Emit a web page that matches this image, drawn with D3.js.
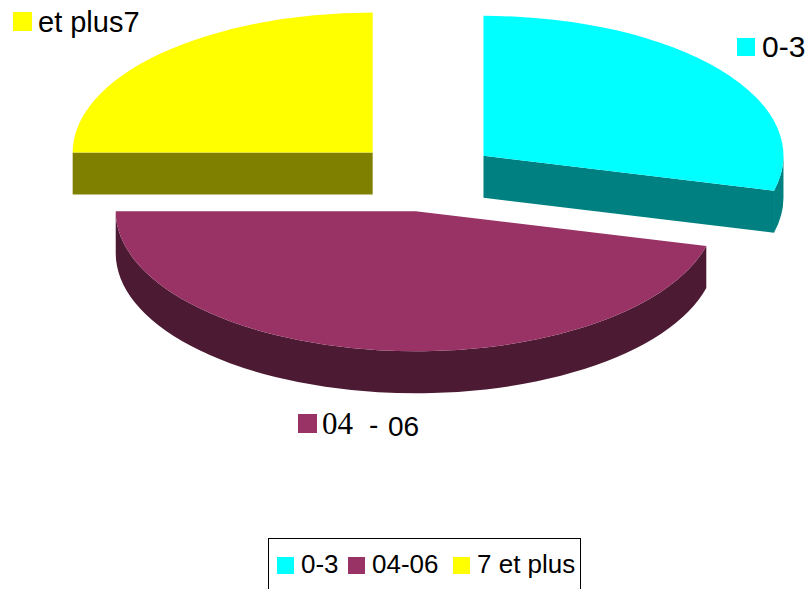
<!DOCTYPE html>
<html>
<head>
<meta charset="utf-8">
<script src="https://cdn.jsdelivr.net/npm/d3@7"></script>
<style>
  body { margin: 0; background: #fff; }
  svg text { fill: #000; }
  .serif { font-family: "Liberation Serif", "Times New Roman", "DejaVu Serif", serif; }
  .sans { font-family: "Liberation Sans", Arial, sans-serif; }
</style>
</head>
<body>
<div id="chart"></div>
<script>
// data
var categories = ["0-3", "04-06", "7 et plus"];
var values = [29, 46, 25];
var topColors = ["#00FFFF", "#993366", "#FFFF00"];
var sideColors = ["#008080", "#4D1A33", "#808000"];

var width = 811, height = 589;

// pie geometry (tilted, exploded)
var cx = 425, cy = 177, rx = 300, ry = 140, depth = 42, explode = 74;

var svg = d3.select("#chart").append("svg")
    .attr("width", width)
    .attr("height", height);

var pie = d3.pie().sort(null).value(function(d) { return d; });
var arcs = pie(values);

function pt(c, a) {
    return [c[0] + rx * Math.sin(a), c[1] - ry * Math.cos(a)];
}

arcs.forEach(function(d) {
    var mid = (d.startAngle + d.endAngle) / 2;
    d.c = [cx + explode * Math.sin(mid), cy - explode * (ry / rx) * Math.cos(mid)];
});

// draw back slices first, the front one last
var order = [0, 2, 1];

order.forEach(function(i) {
    var d = arcs[i], c = d.c;
    var g = svg.append("g").attr("class", "slice");
    var a0 = d.startAngle, a1 = d.endAngle;

    // radial walls that face the viewer
    [[a0, Math.sin(a0) < -1e-6], [a1, Math.sin(a1) > 1e-6]].forEach(function(w) {
        if (!w[1]) return;
        var p = pt(c, w[0]);
        g.append("path")
            .attr("d", "M" + c[0] + "," + c[1] + "L" + p[0] + "," + p[1] +
                "L" + p[0] + "," + (p[1] + depth) + "L" + c[0] + "," + (c[1] + depth) + "Z")
            .attr("fill", sideColors[i]);
    });

    // outer wall, only the front half shows
    var b0 = Math.max(a0, Math.PI / 2), b1 = Math.min(a1, 3 * Math.PI / 2);
    if (b1 > b0) {
        var t0 = pt(c, b0), t1 = pt(c, b1);
        var lg = (b1 - b0) > Math.PI ? 1 : 0;
        g.append("path")
            .attr("d", "M" + t0[0] + "," + t0[1] +
                "A" + rx + "," + ry + " 0 " + lg + " 1 " + t1[0] + "," + t1[1] +
                "L" + t1[0] + "," + (t1[1] + depth) +
                "A" + rx + "," + ry + " 0 " + lg + " 0 " + t0[0] + "," + (t0[1] + depth) + "Z")
            .attr("fill", sideColors[i]);
    }

    // top face
    var s = pt(c, a0), e = pt(c, a1);
    var large = (a1 - a0) > Math.PI ? 1 : 0;
    g.append("path")
        .attr("d", "M" + c[0] + "," + c[1] + "L" + s[0] + "," + s[1] +
            "A" + rx + "," + ry + " 0 " + large + " 1 " + e[0] + "," + e[1] + "Z")
        .attr("fill", topColors[i]);
});

// data labels
function addKey(x, y, size, color) {
    svg.append("rect")
        .attr("x", x).attr("y", y)
        .attr("width", size).attr("height", size)
        .attr("fill", color);
}

// 0-3
addKey(737, 38, 18, topColors[0]);
svg.append("text").attr("class", "sans").attr("x", 762).attr("y", 57)
    .style("font-size", "30px")
    .text(categories[0]);

// 04 - 06
addKey(298, 414, 19, topColors[1]);
svg.append("text").attr("class", "serif").attr("x", 322).attr("y", 434)
    .style("font-size", "31px")
    .text("04");
svg.append("text").attr("class", "sans").attr("x", 369).attr("y", 434)
    .style("font-size", "28px")
    .text("-");
svg.append("text").attr("class", "sans").attr("x", 388).attr("y", 436)
    .style("font-size", "28px")
    .text("06");

// et plus7
addKey(13, 12, 19, topColors[2]);
svg.append("text").attr("class", "sans").attr("x", 38).attr("y", 32)
    .style("font-size", "29px")
    .text("et plus7");

// legend
var legend = svg.append("g").attr("class", "legend");
legend.append("rect")
    .attr("x", 268.5).attr("y", 538.5)
    .attr("width", 312).attr("height", 60)
    .attr("fill", "none")
    .attr("stroke", "#000")
    .attr("stroke-width", 1);

var legX = [277, 348, 453];
categories.forEach(function(name, i) {
    legend.append("rect")
        .attr("x", legX[i]).attr("y", 557)
        .attr("width", 17).attr("height", 17)
        .attr("fill", topColors[i]);
    legend.append("text").attr("class", "sans")
        .attr("x", legX[i] + 24).attr("y", 573)
        .style("font-size", "26px")
        .text(name);
});
</script>
</body>
</html>
